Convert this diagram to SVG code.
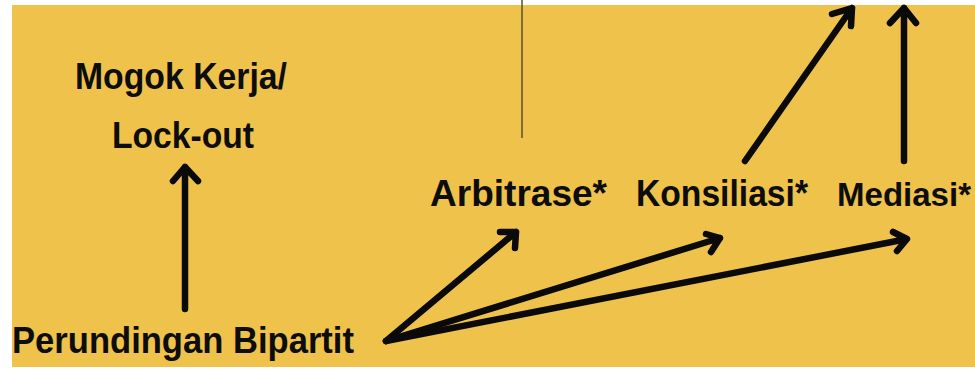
<svg xmlns="http://www.w3.org/2000/svg" width="975" height="369" viewBox="0 0 975 369">
<style>
.t{font-family:"Liberation Sans","DejaVu Sans",sans-serif;font-weight:bold;font-size:37px;fill:#0d0d0d}
.c{fill:none;stroke:#0a0a0a;stroke-width:6.5;stroke-linecap:round;stroke-linejoin:round}
</style>
<rect x="0" y="0" width="975" height="369" fill="#ffffff"/>
<rect x="12" y="5" width="963" height="362" fill="#EFC24B"/>
<line x1="522" y1="0" x2="522" y2="138" stroke="#5b4f30" stroke-width="1.5"/>
<g id="mogok"><text class="t" x="75" y="89" textLength="212" lengthAdjust="spacingAndGlyphs">Mogok Kerja/</text>
<text class="t" x="112" y="148" textLength="142" lengthAdjust="spacingAndGlyphs">Lock-out</text></g>
<g id="perundingan"><text class="t" x="12" y="353" textLength="342" lengthAdjust="spacingAndGlyphs">Perundingan Bipartit</text></g>
<g id="arbitrase"><text class="t" x="430" y="206" textLength="177" lengthAdjust="spacingAndGlyphs">Arbitrase*</text></g>
<g id="konsiliasi"><text class="t" x="636" y="206" textLength="172" lengthAdjust="spacingAndGlyphs">Konsiliasi*</text></g>
<g id="mediasi"><text class="t" x="837" y="206" style="font-size:34px" textLength="134" lengthAdjust="spacingAndGlyphs">Mediasi*</text></g>
<g id="connectors">
<path class="c" d="M185 309 L185 167 M173 181 L185 167 L198 181"/>
<path class="c" d="M386 341 L516 232 M500 232 L516 232 L515 248"/>
<path class="c" d="M386 341 L720 238 M706 234 L720 238 L711 252"/>
<path class="c" d="M386 341 L907 239 M893 232 L907 239 L897 251"/>
<path class="c" d="M745 161 L852 8 M832 14 L852 8 L851 26"/>
<path class="c" d="M904 161 L904 8 M890 23 L904 8 L916 23"/>
</g>
</svg>
